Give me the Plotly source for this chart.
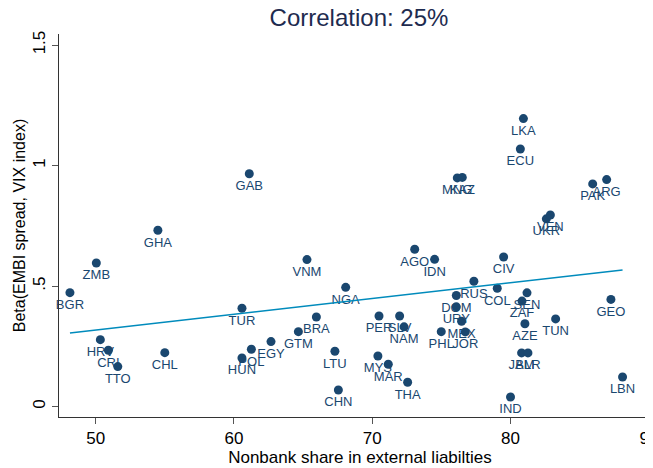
import plotly.graph_objects as go

countries = ["BGR","ZMB","GHA","HRV","CRI","TTO","CHL","TUR","HUN","POL","EGY","GAB",
             "GTM","BRA","VNM","NGA","LTU","CHN","PER","SLV","NAM","MYS","MAR","THA",
             "AGO","IDN","MNG","KAZ","PHL","JOR","DOM","URY","MEX","RUS","COL","CIV",
             "LKA","ECU","SEN","ZAF","AZE","JAM","BLR","IND","TUN","UKR","VEN","PAK",
             "ARG","GEO","LBN"]
nonbank_share = [48.14,50.05,54.5,50.34,50.92,51.6,55.0,60.58,60.58,61.26,62.68,61.11,
                 64.66,65.96,65.28,68.08,67.3,67.55,70.49,71.98,72.3,70.41,71.16,72.56,
                 73.07,74.51,76.15,76.51,74.99,76.73,76.08,76.08,76.46,77.35,79.04,79.5,
                 80.93,80.71,81.19,80.83,81.04,80.8,81.26,80.0,83.26,82.59,82.88,85.94,
                 86.95,87.26,88.1]
beta = [0.473,0.596,0.732,0.278,0.234,0.166,0.224,0.408,0.202,0.238,0.270,0.966,
        0.311,0.372,0.610,0.495,0.230,0.069,0.376,0.376,0.331,0.210,0.176,0.101,
        0.653,0.611,0.949,0.951,0.311,0.310,0.461,0.414,0.354,0.520,0.491,0.621,
        1.195,1.069,0.472,0.438,0.344,0.223,0.223,0.040,0.364,0.779,0.795,0.924,
        0.942,0.445,0.123]

fit_x = [48.14, 88.1]
fit_y = [0.306, 0.567]

x_ticks = [50, 60, 70, 80, 90]
y_ticks = [0, 0.5, 1, 1.5]
y_ticktext = ["0", ".5", "1", "1.5"]

navy = "#1a476f"
fnt = "Liberation Sans, Arial, Helvetica, sans-serif"

fig = go.Figure()
fig.add_trace(go.Scatter(
    x=nonbank_share, y=beta, mode="markers+text", text=countries,
    textposition="bottom center",
    textfont=dict(family=fnt, size=13, color=navy),
    marker=dict(size=9, color=navy, line=dict(width=0)),
    showlegend=False, cliponaxis=False))
fig.add_trace(go.Scatter(
    x=fit_x, y=fit_y, mode="lines",
    line=dict(color="#008bbc", width=1.5), showlegend=False))

fig.update_layout(
    width=653, height=468,
    margin=dict(l=51, r=0, t=26, b=59, autoexpand=False),
    paper_bgcolor="white", plot_bgcolor="white",
    font=dict(family=fnt),
    title=dict(text="Correlation: 25%", x=0.5375, xanchor="center", y=0.979, yanchor="middle",
               font=dict(family=fnt, size=24, color="#1e2b4f")),
    xaxis=dict(range=[47.35, 90.88], tickvals=x_ticks, showgrid=False, zeroline=False,
               automargin=False,
               showline=True, linecolor="#333333", linewidth=1,
               ticks="outside", ticklen=6, tickcolor="#555555",
               tickfont=dict(family=fnt, size=17, color="black"),
               title=dict(text="Nonbank share in external liabilties",
                          font=dict(family=fnt, size=17, color="black"), standoff=2)),
    yaxis=dict(range=[-0.043, 1.546], tickvals=y_ticks, ticktext=y_ticktext, tickangle=-90,
               showgrid=False, zeroline=False, automargin=False,
               showline=True, linecolor="#333333", linewidth=1,
               ticks="outside", ticklen=6, tickcolor="#555555",
               tickfont=dict(family=fnt, size=17, color="black"),
               title=dict(text="Beta(EMBI spread, VIX index)",
                          font=dict(family=fnt, size=16, color="black"), standoff=0)),
)

fig.write_html("out.html")
